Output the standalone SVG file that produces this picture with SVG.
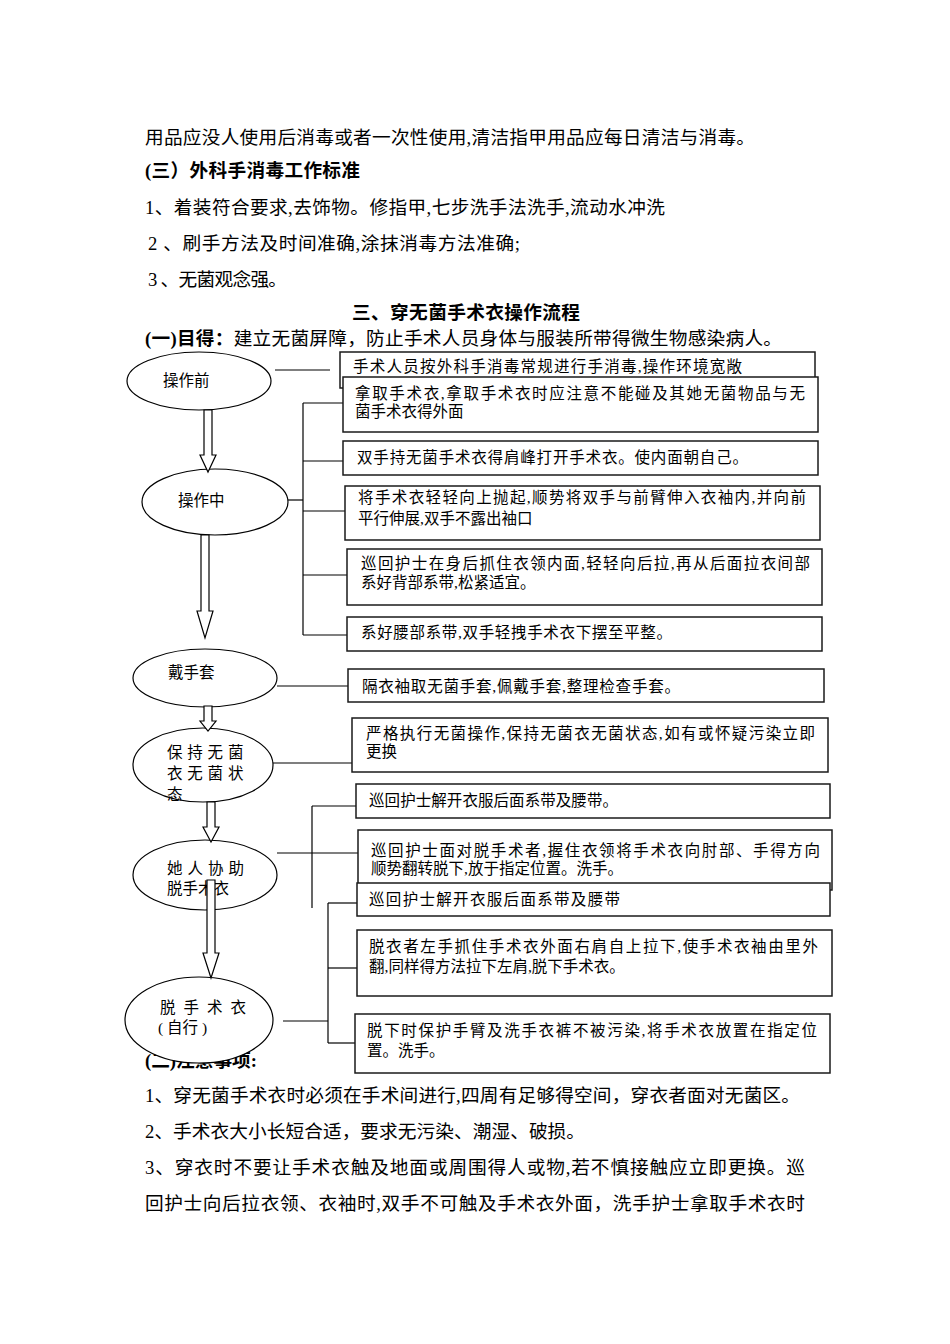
<svg xmlns="http://www.w3.org/2000/svg" width="950" height="1344" viewBox="0 0 950 1344">
<style>
text{font-family:"Liberation Serif","Noto Sans CJK SC",serif;fill:#000}
.body{font-size:18.67px}
.b{font-weight:bold}
.bx{font-size:15.5px}
.el{font-size:15.5px}
.box{fill:#fff;stroke:#1a1a1a;stroke-width:1.5}
.ell{fill:#fff;stroke:#000;stroke-width:1.2}
.con line{stroke:#000;stroke-width:1.2}
.arr{fill:#fff;stroke:#000;stroke-width:1.2}
</style>
<rect width="950" height="1344" fill="#fff"/>
<g id="text-top">
<text class="body" x="145" y="144" textLength="610" lengthAdjust="spacing">用品应没人使用后消毒或者一次性使用,清洁指甲用品应每日清洁与消毒。</text>
<text class="body b" x="145" y="177" textLength="215" lengthAdjust="spacing">(三）外科手消毒工作标准</text>
<text class="body" x="145" y="214" textLength="520" lengthAdjust="spacing">1、着装符合要求,去饰物。修指甲,七步洗手法洗手,流动水冲洗</text>
<text class="body" x="148" y="250" textLength="372" lengthAdjust="spacing">2 、刷手方法及时间准确,涂抹消毒方法准确;</text>
<text class="body" x="148" y="286" textLength="139" lengthAdjust="spacing">3 、无菌观念强。</text>
<text class="body b" x="352" y="319" textLength="228" lengthAdjust="spacing">三、穿无菌手术衣操作流程</text>
<text class="body" x="145" y="345" textLength="637" lengthAdjust="spacing"><tspan class="b">(一)目得：</tspan>建立无菌屏障，防止手术人员身体与服装所带得微生物感染病人。</text>
</g>
<g id="heading-notes">
<text class="body b" x="145" y="1067">(二)注意事项:</text>
</g>
<g id="connectors" class="con">
<line x1="275" y1="370" x2="330" y2="370"/>
<line x1="303" y1="403" x2="303" y2="635"/>
<line x1="303" y1="403" x2="343" y2="403"/>
<line x1="303" y1="461" x2="343" y2="461"/>
<line x1="288" y1="500" x2="303" y2="500"/>
<line x1="303" y1="511" x2="345" y2="511"/>
<line x1="303" y1="575" x2="347" y2="575"/>
<line x1="303" y1="635" x2="347" y2="635"/>
<line x1="277" y1="686" x2="348" y2="686"/>
<line x1="273" y1="763" x2="352" y2="763"/>
<line x1="312" y1="806" x2="312" y2="908"/>
<line x1="312" y1="806" x2="356" y2="806"/>
<line x1="277" y1="853" x2="358" y2="853"/>
<line x1="328" y1="903" x2="328" y2="1043"/>
<line x1="328" y1="903" x2="357" y2="903"/>
<line x1="328" y1="968" x2="357" y2="968"/>
<line x1="328" y1="1043" x2="355" y2="1043"/>
<line x1="283" y1="1021" x2="328" y2="1021"/>
</g>
<g id="box-a">
<rect class="box" x="340" y="352" width="475" height="36"/>
<text class="bx" x="353" y="372" textLength="389" lengthAdjust="spacing">手术人员按外科手消毒常规进行手消毒,操作环境宽敞</text>
</g>
<g id="box-b">
<rect class="box" x="343" y="377" width="475" height="55"/>
<text class="bx" x="355" y="399" textLength="450" lengthAdjust="spacing">拿取手术衣,拿取手术衣时应注意不能碰及其她无菌物品与无</text>
<text class="bx" x="355" y="417">菌手术衣得外面</text>
</g>
<g id="box-c">
<rect class="box" x="343" y="441" width="475" height="34"/>
<text class="bx" x="357" y="463" textLength="391" lengthAdjust="spacing">双手持无菌手术衣得肩峰打开手术衣。使内面朝自己。</text>
</g>
<g id="box-d">
<rect class="box" x="345" y="486" width="475" height="54"/>
<text class="bx" x="358" y="503" textLength="448" lengthAdjust="spacing">将手术衣轻轻向上抛起,顺势将双手与前臂伸入衣袖内,并向前</text>
<text class="bx" x="358" y="524">平行伸展,双手不露出袖口</text>
</g>
<g id="box-e">
<rect class="box" x="347" y="549" width="475" height="56"/>
<text class="bx" x="361" y="569" textLength="449" lengthAdjust="spacing">巡回护士在身后抓住衣领内面,轻轻向后拉,再从后面拉衣间部</text>
<text class="bx" x="361" y="588">系好背部系带,松紧适宜。</text>
</g>
<g id="box-f">
<rect class="box" x="347" y="617" width="475" height="34"/>
<text class="bx" x="361" y="638" textLength="311" lengthAdjust="spacing">系好腰部系带,双手轻拽手术衣下摆至平整。</text>
</g>
<g id="box-g">
<rect class="box" x="348" y="669" width="476" height="33"/>
<text class="bx" x="362" y="692" textLength="318" lengthAdjust="spacing">隔衣袖取无菌手套,佩戴手套,整理检查手套。</text>
</g>
<g id="box-h">
<rect class="box" x="352" y="718" width="476" height="54"/>
<text class="bx" x="366" y="739" textLength="449" lengthAdjust="spacing">严格执行无菌操作,保持无菌衣无菌状态,如有或怀疑污染立即</text>
<text class="bx" x="366" y="757">更换</text>
</g>
<g id="box-i">
<rect class="box" x="356" y="784" width="474" height="34"/>
<text class="bx" x="369" y="806" textLength="249" lengthAdjust="spacing">巡回护士解开衣服后面系带及腰带。</text>
</g>
<g id="box-j">
<rect class="box" x="358" y="830" width="474" height="60"/>
<text class="bx" x="371" y="856" textLength="449" lengthAdjust="spacing">巡回护士面对脱手术者,握住衣领将手术衣向肘部、手得方向</text>
<text class="bx" x="371" y="874">顺势翻转脱下,放于指定位置。洗手。</text>
</g>
<g id="box-k">
<rect class="box" x="357" y="883" width="473" height="33"/>
<text class="bx" x="369" y="905" textLength="251" lengthAdjust="spacing">巡回护士解开衣服后面系带及腰带</text>
</g>
<g id="box-l">
<rect class="box" x="357" y="930" width="475" height="66"/>
<text class="bx" x="369" y="952" textLength="449" lengthAdjust="spacing">脱衣者左手抓住手术衣外面右肩自上拉下,使手术衣袖由里外</text>
<text class="bx" x="369" y="972">翻,同样得方法拉下左肩,脱下手术衣。</text>
</g>
<g id="box-m">
<rect class="box" x="355" y="1014" width="475" height="59"/>
<text class="bx" x="367" y="1036" textLength="450" lengthAdjust="spacing">脱下时保护手臂及洗手衣裤不被污染,将手术衣放置在指定位</text>
<text class="bx" x="367" y="1056">置。洗手。</text>
</g>
<g id="node-before">
<ellipse class="ell" cx="199" cy="381" rx="72" ry="29"/>
<text class="el" x="163" y="386">操作前</text>
</g>
<g id="node-during">
<ellipse class="ell" cx="215" cy="502" rx="73" ry="33"/>
<text class="el" x="178" y="506">操作中</text>
</g>
<g id="node-gloves">
<ellipse class="ell" cx="205" cy="678" rx="72" ry="29"/>
<text class="el" x="168" y="678">戴手套</text>
</g>
<g id="node-keep">
<ellipse class="ell" cx="203" cy="765" rx="70" ry="37"/>
<text class="el" x="167" y="758" letter-spacing="4.8">保持无菌</text>
<text class="el" x="167" y="779" letter-spacing="4.8">衣无菌状</text>
<text class="el" x="167" y="800">态</text>
</g>
<g id="node-assist">
<ellipse class="ell" cx="205" cy="875" rx="72" ry="35"/>
<text class="el" x="167" y="874" letter-spacing="5">她人协助</text>
<text class="el" x="167" y="894">脱手术衣</text>
</g>
<g id="node-self">
<ellipse class="ell" cx="199" cy="1020" rx="74" ry="43"/>
<text class="el" x="160" y="1013" letter-spacing="8">脱手术衣</text>
<text class="el" x="158" y="1033">( 自行 )</text>
</g>
<g id="arrows">
<path class="arr" d="M204,410 L212,410 L212,455 L216,455 L208,472 L200,455 L204,455 Z"/>
<path class="arr" d="M201,535 L209,535 L209,611 L213,611 L205,638 L197,611 L201,611 Z"/>
<path class="arr" d="M204,706 L212,706 L212,721 L216,721 L208,731 L200,721 L204,721 Z"/>
<path class="arr" d="M207,802 L215,802 L215,827 L219,827 L211,842 L203,827 L207,827 Z"/>
<path class="arr" d="M207,880 L215,880 L215,953 L219,953 L211,978 L203,953 L207,953 Z"/>
</g>
<g id="text-bottom">
<text class="body" x="145" y="1102" textLength="655" lengthAdjust="spacing">1、穿无菌手术衣时必须在手术间进行,四周有足够得空间，穿衣者面对无菌区。</text>
<text class="body" x="145" y="1138" textLength="440" lengthAdjust="spacing">2、手术衣大小长短合适，要求无污染、潮湿、破损。</text>
<text class="body" x="145" y="1174" textLength="660" lengthAdjust="spacing">3、穿衣时不要让手术衣触及地面或周围得人或物,若不慎接触应立即更换。巡</text>
<text class="body" x="145" y="1210" textLength="660" lengthAdjust="spacing">回护士向后拉衣领、衣袖时,双手不可触及手术衣外面，洗手护士拿取手术衣时</text>
</g>
</svg>
